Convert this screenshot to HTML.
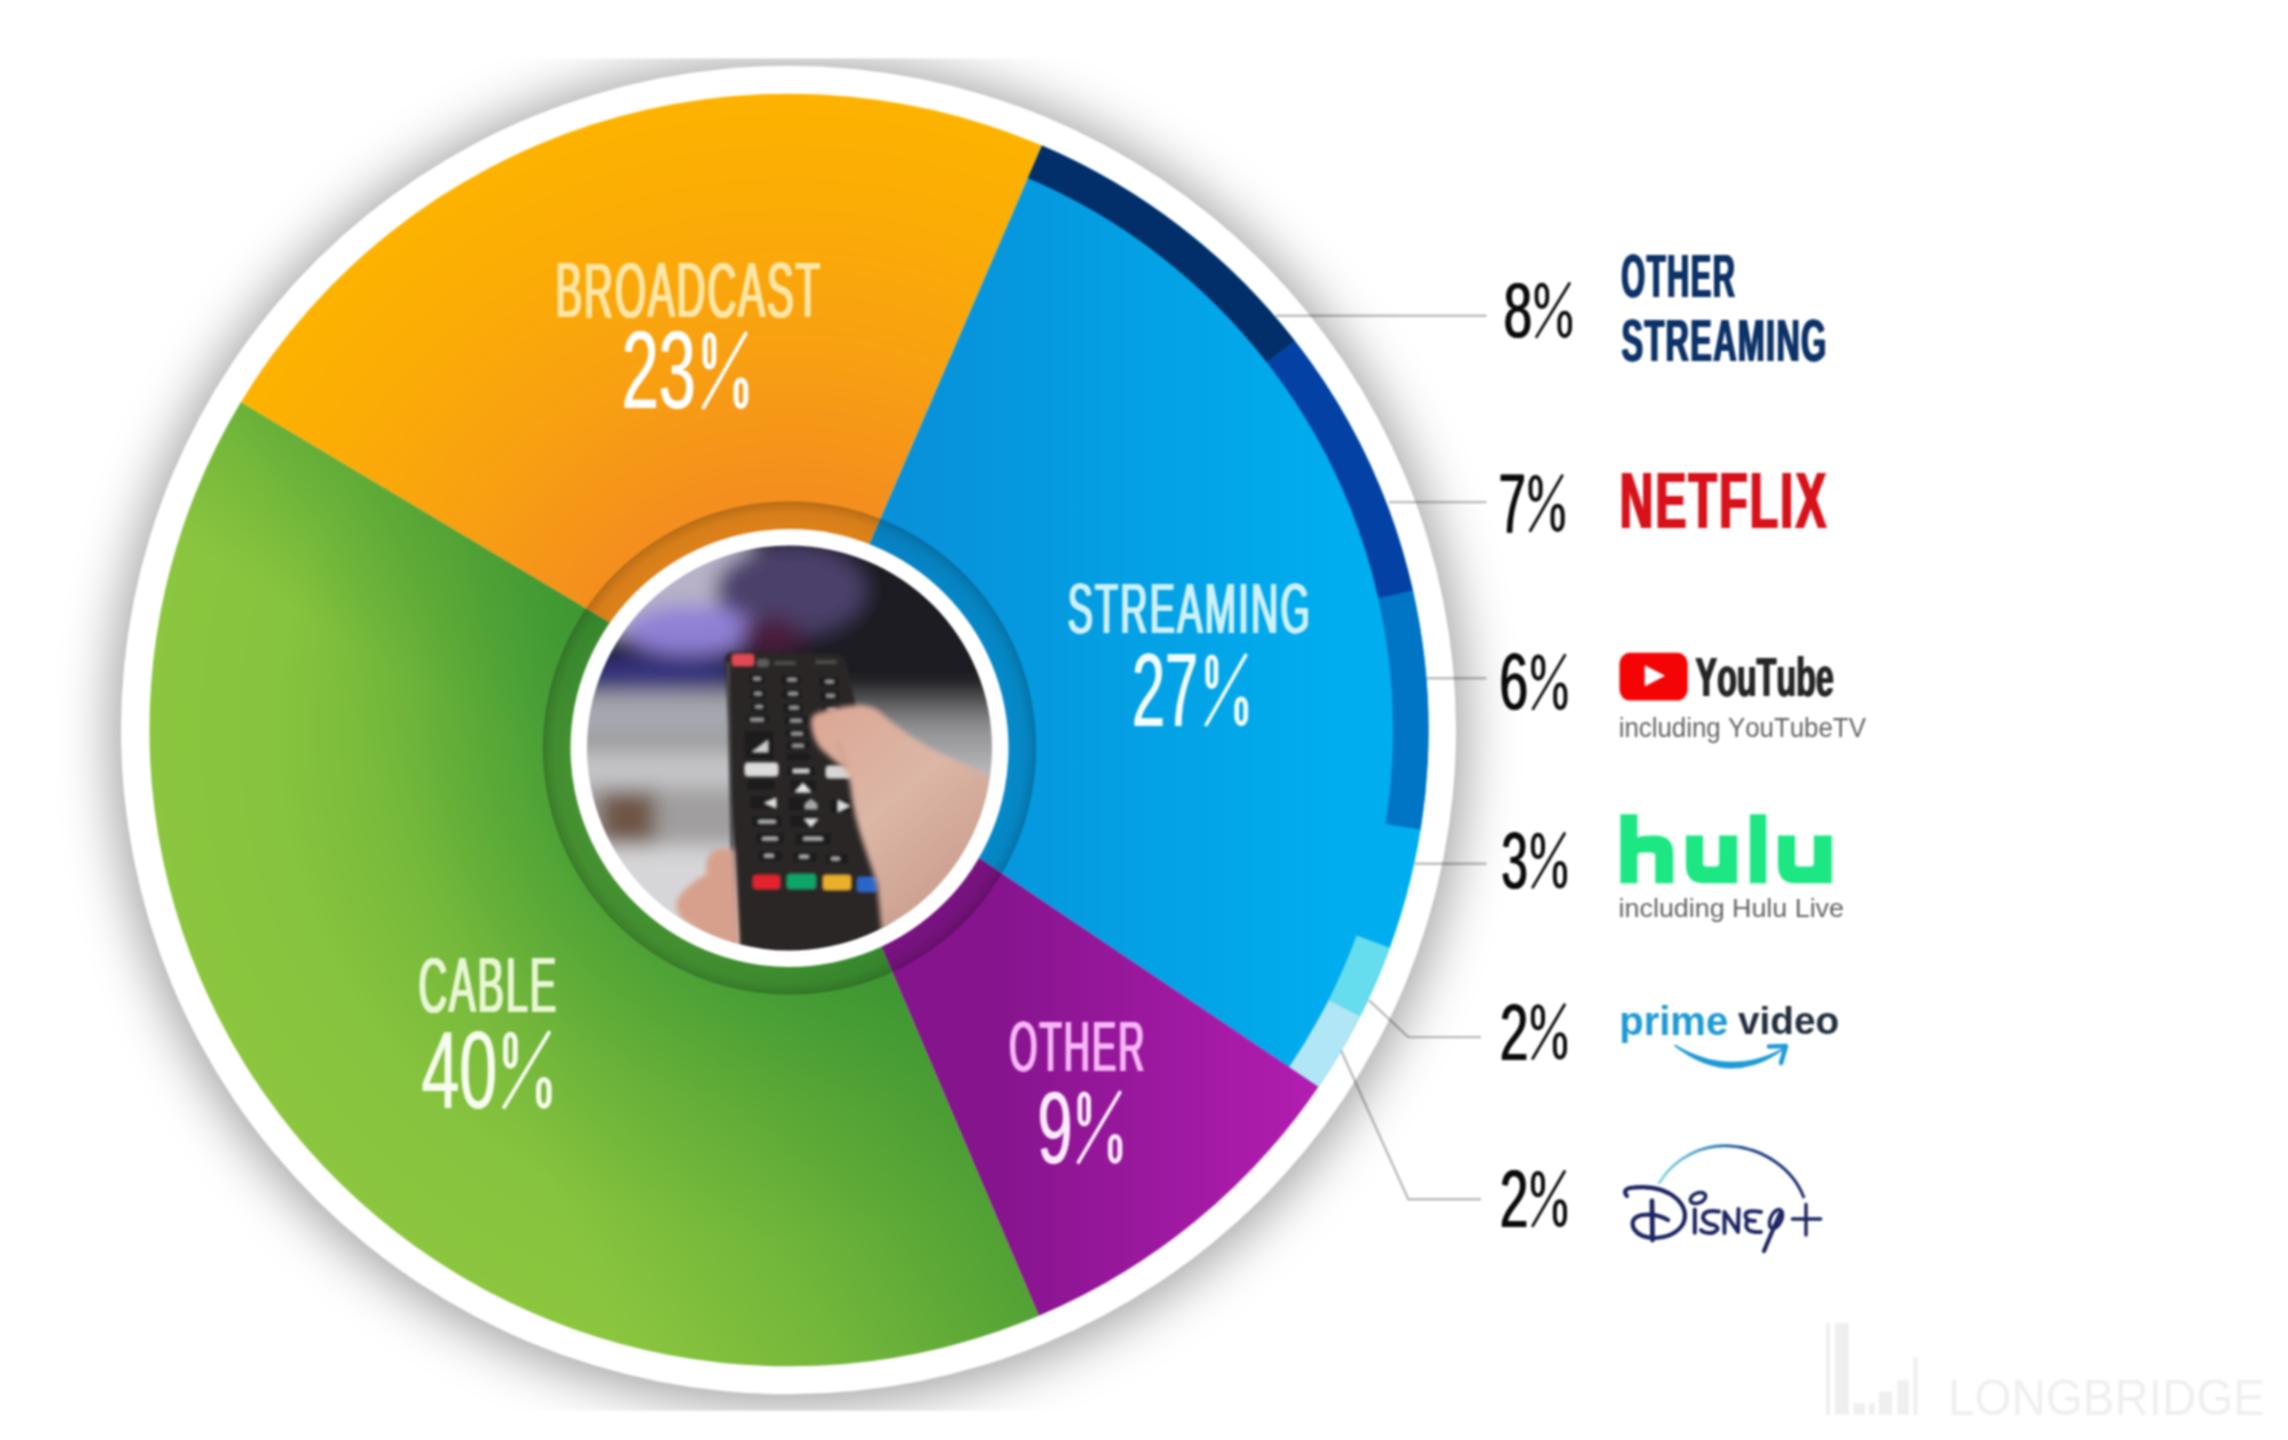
<!DOCTYPE html>
<html><head><meta charset="utf-8"><title>TV viewing share</title>
<style>
html,body{margin:0;padding:0;background:#fff;}
body{width:2288px;height:1440px;overflow:hidden;}
svg{display:block;}
#wrap{width:2288px;height:1440px;filter:blur(1px);}
text{font-family:"Liberation Sans",sans-serif;font-kerning:none;}
</style></head><body>
<div id="wrap">
<svg width="2288" height="1440" viewBox="0 0 2288 1440">
<defs>
<filter id="shblur" x="-20%" y="-20%" width="140%" height="140%"><feGaussianBlur stdDeviation="26"/></filter>
<clipPath id="shclip"><rect x="0" y="58.5" width="2288" height="1352.3"/></clipPath>
<radialGradient id="gB" gradientUnits="userSpaceOnUse" cx="0" cy="0" r="640">
 <stop offset="0.38" stop-color="#f48f1d"/><stop offset="0.6" stop-color="#f8a012"/><stop offset="0.8" stop-color="#fbab07"/><stop offset="1" stop-color="#fdb300"/></radialGradient>
<linearGradient id="gS" gradientUnits="userSpaceOnUse" x1="100" y1="0" x2="560" y2="0">
 <stop offset="0" stop-color="#0890d8"/><stop offset="1" stop-color="#00aeef"/></linearGradient>
<linearGradient id="gO" gradientUnits="userSpaceOnUse" x1="200" y1="0" x2="520" y2="0">
 <stop offset="0" stop-color="#85148d"/><stop offset="1" stop-color="#b11db0"/></linearGradient>
<radialGradient id="gC" gradientUnits="userSpaceOnUse" cx="0" cy="0" r="640">
 <stop offset="0.39" stop-color="#55a838"/><stop offset="0.6" stop-color="#74b83b"/><stop offset="0.8" stop-color="#86c33e"/><stop offset="1" stop-color="#8cc63f"/></radialGradient>
<linearGradient id="gC2" gradientUnits="userSpaceOnUse" x1="0" y1="0" x2="-368.4" y2="156.4">
 <stop offset="0" stop-color="#2c8a2f" stop-opacity="0.6"/><stop offset="0.5" stop-color="#2c8a2f" stop-opacity="0.25"/><stop offset="1" stop-color="#2c8a2f" stop-opacity="0"/></linearGradient>
<linearGradient id="gC3" gradientUnits="userSpaceOnUse" x1="0" y1="0" x2="-77" y2="129">
 <stop offset="0" stop-color="#2c8a2f" stop-opacity="0.32"/><stop offset="1" stop-color="#2c8a2f" stop-opacity="0"/></linearGradient>
<radialGradient id="gRing" gradientUnits="userSpaceOnUse" cx="0" cy="0" r="247">
 <stop offset="0.88" stop-color="#000" stop-opacity="0.09"/>
 <stop offset="0.95" stop-color="#000" stop-opacity="0.12"/>
 <stop offset="0.985" stop-color="#000" stop-opacity="0.2"/>
 <stop offset="0.996" stop-color="#000" stop-opacity="0.26"/>
 <stop offset="1" stop-color="#000" stop-opacity="0.05"/></radialGradient>
</defs>

<g clip-path="url(#shclip)"><ellipse cx="788.5" cy="733.0" rx="677.5" ry="674.1" fill="#000" fill-opacity="0.36" filter="url(#shblur)"/></g>
<ellipse cx="788.5" cy="730.0" rx="667.5" ry="664.2" fill="#fff"/>
<g transform="translate(789.0,730.0) scale(1,0.9950)">
<path d="M0,0 L-548.16,-329.37 A639.50,639.50 0 0 1 252.95,-587.35 Z" fill="url(#gB)"/>
<path d="M0,0 L252.95,-587.35 A639.50,639.50 0 0 1 529.54,358.53 Z" fill="url(#gS)"/>
<path d="M0,0 L529.54,358.53 A639.50,639.50 0 0 1 249.87,588.66 Z" fill="url(#gO)"/>
<path d="M0,0 L249.87,588.66 A639.50,639.50 0 0 1 -548.16,-329.37 Z" fill="url(#gC)"/>
<path d="M0,0 L249.87,588.66 A639.50,639.50 0 0 1 -548.16,-329.37 Z" fill="url(#gC2)"/>
<path d="M0,0 L249.87,588.66 A639.50,639.50 0 0 1 -548.16,-329.37 Z" fill="url(#gC3)"/>
<path d="M252.95,-587.35 A639.50,639.50 0 0 1 505.99,-391.07 L477.90,-369.36 A604.00,604.00 0 0 0 238.91,-554.74 Z" fill="#022f6a"/>
<path d="M505.99,-391.07 A639.50,639.50 0 0 1 623.98,-140.05 L589.34,-132.27 A604.00,604.00 0 0 0 477.90,-369.36 Z" fill="#0441a4"/>
<path d="M623.98,-140.05 A639.50,639.50 0 0 1 631.63,100.04 L596.56,94.49 A604.00,604.00 0 0 0 589.34,-132.27 Z" fill="#0074c5"/>
<path d="M600.93,218.72 A639.50,639.50 0 0 1 571.31,287.34 L539.60,271.39 A604.00,604.00 0 0 0 567.57,206.58 Z" fill="#66dcef"/>
<path d="M571.31,287.34 A639.50,639.50 0 0 1 529.54,358.53 L500.15,338.63 A604.00,604.00 0 0 0 539.60,271.39 Z" fill="#b0e6f5"/>
</g>
<g transform="translate(789.5,748.0)"><circle r="247.0" fill="url(#gRing)"/></g>
<circle cx="789.5" cy="748.0" r="219.0" fill="#fff"/>
<clipPath id="phclip"><circle cx="789.5" cy="748.0" r="202.5"/></clipPath>
<filter id="bgblur" x="-10%" y="-10%" width="120%" height="120%"><feGaussianBlur stdDeviation="10"/></filter>
<filter id="sblur" x="-10%" y="-10%" width="120%" height="120%"><feGaussianBlur stdDeviation="1.3"/></filter>
<filter id="hblur" x="-10%" y="-10%" width="120%" height="120%"><feGaussianBlur stdDeviation="2.5"/></filter>
<linearGradient id="skin" gradientUnits="userSpaceOnUse" x1="820" y1="720" x2="980" y2="900"><stop offset="0" stop-color="#dca896"/><stop offset="0.45" stop-color="#dcb6a6"/><stop offset="1" stop-color="#c89a8a"/></linearGradient>
<linearGradient id="bgR" gradientUnits="userSpaceOnUse" x1="0" y1="690" x2="0" y2="790"><stop offset="0" stop-color="#3a3a3c"/><stop offset="0.35" stop-color="#8e8e90"/><stop offset="1" stop-color="#c6c6c8"/></linearGradient>
<g clip-path="url(#phclip)">
<g filter="url(#bgblur)">
<rect x="560" y="520" width="460" height="460" fill="#c6c6c8"/>
<rect x="560" y="520" width="460" height="172" fill="#1f1a21"/>
<ellipse cx="665" cy="580" rx="105" ry="62" fill="#b7b2c8"/>
<ellipse cx="790" cy="590" rx="75" ry="45" fill="#4b3f6b"/>
<ellipse cx="690" cy="630" rx="65" ry="24" fill="#9080d6"/>
<ellipse cx="772" cy="636" rx="32" ry="18" fill="#4a1c3c"/>
<ellipse cx="650" cy="674" rx="90" ry="18" fill="#34317c"/>
<rect x="560" y="692" width="230" height="50" fill="#a6a6ae"/>
<rect x="800" y="690" width="220" height="110" fill="url(#bgR)"/>
<rect x="560" y="741" width="230" height="9" fill="#85857c"/>
<rect x="560" y="750" width="230" height="38" fill="#c4c4c8"/>
<rect x="560" y="788" width="230" height="58" fill="#a09e9e"/>
<rect x="600" y="790" width="55" height="55" fill="#6e5444"/>
<rect x="560" y="846" width="230" height="130" fill="#d6d6d8"/>
</g>
<g filter="url(#sblur)">
<path d="M725,660 Q725,652 735,652 L836,654 Q844,655 846,662 L858,716 L895,960 L740,960 Z" fill="#2a2828"/>
<path d="M728,662 L734,950" stroke="#4a4a4c" stroke-width="3" fill="none"/>
<rect x="732" y="654" width="22" height="12" rx="3" fill="#e04a55"/>
<rect x="757" y="659" width="12" height="8" rx="3" fill="#5c5c5c"/>
<rect x="774" y="661" width="22" height="4" rx="3" fill="#4c4c4c"/>
<rect x="815" y="660" width="22" height="4" rx="3" fill="#4c4c4c"/>
<rect x="749" y="674" width="16" height="10" rx="3" fill="#1a1a1a"/>
<rect x="781" y="675" width="20" height="10" rx="3" fill="#1a1a1a"/>
<rect x="819" y="677" width="20" height="10" rx="3" fill="#1a1a1a"/>
<rect x="750" y="689" width="16" height="10" rx="3" fill="#1a1a1a"/>
<rect x="782" y="689" width="20" height="10" rx="3" fill="#1a1a1a"/>
<rect x="820" y="691" width="20" height="10" rx="3" fill="#1a1a1a"/>
<rect x="751" y="702" width="16" height="10" rx="3" fill="#1a1a1a"/>
<rect x="783" y="703" width="20" height="10" rx="3" fill="#1a1a1a"/>
<rect x="821" y="705" width="20" height="10" rx="3" fill="#1a1a1a"/>
<rect x="746" y="715" width="24" height="8" rx="3" fill="#1a1a1a"/>
<rect x="784" y="716" width="24" height="9" rx="3" fill="#1a1a1a"/>
<rect x="785" y="729" width="24" height="8" rx="3" fill="#1a1a1a"/>
<rect x="786" y="741" width="24" height="9" rx="3" fill="#1a1a1a"/>
<rect x="786" y="753" width="24" height="8" rx="3" fill="#1a1a1a"/>
<rect x="753" y="677" width="8" height="3.5" rx="1.5" fill="#9a9a9a"/>
<rect x="787" y="678" width="10" height="3.5" rx="1.5" fill="#9a9a9a"/>
<rect x="825" y="680" width="9" height="3.5" rx="1.5" fill="#9a9a9a"/>
<rect x="754" y="692" width="8" height="3.5" rx="1.5" fill="#9a9a9a"/>
<rect x="788" y="692" width="10" height="3.5" rx="1.5" fill="#9a9a9a"/>
<rect x="826" y="694" width="9" height="3.5" rx="1.5" fill="#9a9a9a"/>
<rect x="755" y="705" width="8" height="3.5" rx="1.5" fill="#9a9a9a"/>
<rect x="789" y="706" width="10" height="3.5" rx="1.5" fill="#9a9a9a"/>
<rect x="827" y="708" width="9" height="3.5" rx="1.5" fill="#9a9a9a"/>
<rect x="750" y="718" width="14" height="3.5" rx="1.5" fill="#9a9a9a"/>
<rect x="790" y="719" width="12" height="3.5" rx="1.5" fill="#9a9a9a"/>
<rect x="791" y="732" width="12" height="3.5" rx="1.5" fill="#9a9a9a"/>
<rect x="792" y="744" width="12" height="3.5" rx="1.5" fill="#9a9a9a"/>
<rect x="745" y="763" width="33" height="13" rx="3" fill="#dcdcdc"/>
<rect x="787" y="766" width="28" height="10" rx="3" fill="#1a1a1a"/><rect x="793" y="769" width="16" height="4" fill="#cfcfcf"/>
<rect x="826" y="766" width="26" height="12" rx="3" fill="#d6d6d6"/>
<rect x="744" y="731" width="30" height="28" rx="3" fill="#1a1a1b"/>
<path d="M752,752 L768,740 L768,752 Z" fill="#cfcfcf"/>
<rect x="747" y="780" width="28" height="10" rx="3" fill="#1a1a1a"/>
<rect x="790" y="780" width="26" height="12" rx="3" fill="#1a1a1a"/>
<rect x="750" y="796" width="28" height="13" rx="3" fill="#1a1a1a"/>
<rect x="788" y="797" width="26" height="14" rx="3" fill="#1a1a1a"/>
<rect x="830" y="799" width="24" height="14" rx="3" fill="#1a1a1a"/>
<rect x="752" y="816" width="30" height="11" rx="3" fill="#1a1a1a"/>
<rect x="790" y="815" width="28" height="12" rx="3" fill="#1a1a1a"/>
<rect x="756" y="833" width="28" height="11" rx="3" fill="#1a1a1a"/>
<rect x="795" y="833" width="36" height="12" rx="3" fill="#1a1a1a"/>
<rect x="758" y="851" width="24" height="10" rx="3" fill="#1a1a1a"/>
<rect x="793" y="852" width="24" height="10" rx="3" fill="#1a1a1a"/>
<rect x="826" y="854" width="22" height="10" rx="3" fill="#1a1a1a"/>
<path d="M795,792 L803,783 L811,792 Z" fill="#e8e8e8"/>
<path d="M764,803 L776,798 L776,808 Z" fill="#e0e0e0"/>
<path d="M838,800 L850,806 L838,812 Z" fill="#e0e0e0"/>
<path d="M804,819 L818,819 L811,827 Z" fill="#e0e0e0"/>
<path d="M805,804 L811,799 L817,804 L817,809 L805,809 Z" fill="#a8a8a8"/>
<rect x="758" y="820" width="18" height="3.5" rx="1.5" fill="#b0b0b0"/>
<rect x="762" y="837" width="16" height="3.5" rx="1.5" fill="#b0b0b0"/>
<rect x="803" y="837" width="20" height="3.5" rx="1.5" fill="#b0b0b0"/>
<rect x="764" y="854" width="10" height="3.5" rx="1.5" fill="#b0b0b0"/>
<rect x="799" y="855" width="10" height="3.5" rx="1.5" fill="#b0b0b0"/>
<rect x="831" y="857" width="9" height="3.5" rx="1.5" fill="#b0b0b0"/>
<rect x="753" y="875" width="27" height="14" rx="3" fill="#e3232e"/>
<rect x="787" y="874" width="29" height="15" rx="3" fill="#0fa56a"/>
<rect x="823" y="875" width="28" height="15" rx="3" fill="#e8b02a"/>
<rect x="857" y="877" width="20" height="15" rx="3" fill="#2a66c8"/>
</g>
<g filter="url(#hblur)">
<path d="M811,724 Q810,714 820,712 Q840,706 858,705 Q872,705 880,712 Q900,730 930,748 Q960,762 990,776 L1000,980 L888,980 Q882,940 877,884 Q868,858 862,840 Q855,818 852,800 Q850,780 846,770 Q830,758 820,748 Q812,738 811,724 Z" fill="url(#skin)"/>
<path d="M848,770 Q842,755 838,742" stroke="#c0907e" stroke-width="3" fill="none" opacity="0.5"/>
<path d="M734,850 Q720,846 711,853 Q704,862 707,874 Q690,882 678,898 Q672,914 690,925 L740,962 Z" fill="#d7a08c"/>
</g>
</g>
<text x="554.42" y="317.23" font-size="78.39" font-weight="normal" textLength="266.49" lengthAdjust="spacingAndGlyphs" fill="#fde6a6" letter-spacing="3.919">BROADCAST</text><text x="555.09" y="317.23" font-size="78.39" font-weight="normal" textLength="266.49" lengthAdjust="spacingAndGlyphs" fill="#fde6a6" letter-spacing="3.919">BROADCAST</text><text x="555.76" y="317.23" font-size="78.39" font-weight="normal" textLength="266.49" lengthAdjust="spacingAndGlyphs" fill="#fde6a6" letter-spacing="3.919">BROADCAST</text><text x="556.42" y="317.23" font-size="78.39" font-weight="normal" textLength="266.49" lengthAdjust="spacingAndGlyphs" fill="#fde6a6" letter-spacing="3.919">BROADCAST</text>
<text x="621.25" y="407.94" font-size="108.76" font-weight="normal" textLength="74.08" lengthAdjust="spacingAndGlyphs" fill="#ffffff">23</text><text x="622.25" y="407.94" font-size="108.76" font-weight="normal" textLength="74.08" lengthAdjust="spacingAndGlyphs" fill="#ffffff">23</text><rect x="705.14" y="335.16" width="8.69" height="31.72" rx="4.34" ry="6.95" fill="none" stroke="#ffffff" stroke-width="5.08"/><rect x="736.12" y="379.97" width="9.61" height="26.49" rx="4.80" ry="7.68" fill="none" stroke="#ffffff" stroke-width="5.08"/><line x1="745.75" y1="333.54" x2="703.52" y2="407.46" stroke="#ffffff" stroke-width="3.85" stroke-linecap="round"/>
<text x="1066.69" y="632.91" font-size="70.76" font-weight="normal" textLength="244.39" lengthAdjust="spacingAndGlyphs" fill="#cdf1fc" letter-spacing="4.246">STREAMING</text><text x="1067.36" y="632.91" font-size="70.76" font-weight="normal" textLength="244.39" lengthAdjust="spacingAndGlyphs" fill="#cdf1fc" letter-spacing="4.246">STREAMING</text><text x="1068.02" y="632.91" font-size="70.76" font-weight="normal" textLength="244.39" lengthAdjust="spacingAndGlyphs" fill="#cdf1fc" letter-spacing="4.246">STREAMING</text><text x="1068.69" y="632.91" font-size="70.76" font-weight="normal" textLength="244.39" lengthAdjust="spacingAndGlyphs" fill="#cdf1fc" letter-spacing="4.246">STREAMING</text>
<text x="1131.41" y="726.00" font-size="103.40" font-weight="normal" textLength="66.19" lengthAdjust="spacingAndGlyphs" fill="#f2fcff">27</text><text x="1132.41" y="726.00" font-size="103.40" font-weight="normal" textLength="66.19" lengthAdjust="spacingAndGlyphs" fill="#f2fcff">27</text><rect x="1207.78" y="656.76" width="8.10" height="29.75" rx="4.05" ry="6.48" fill="none" stroke="#f2fcff" stroke-width="4.77"/><rect x="1236.74" y="698.78" width="8.96" height="24.84" rx="4.48" ry="7.17" fill="none" stroke="#f2fcff" stroke-width="4.77"/><line x1="1245.73" y1="655.24" x2="1206.26" y2="724.56" stroke="#f2fcff" stroke-width="3.61" stroke-linecap="round"/>
<text x="417.39" y="1011.74" font-size="77.68" font-weight="normal" textLength="139.90" lengthAdjust="spacingAndGlyphs" fill="#e8f6d4" letter-spacing="3.884">CABLE</text><text x="418.05" y="1011.74" font-size="77.68" font-weight="normal" textLength="139.90" lengthAdjust="spacingAndGlyphs" fill="#e8f6d4" letter-spacing="3.884">CABLE</text><text x="418.72" y="1011.74" font-size="77.68" font-weight="normal" textLength="139.90" lengthAdjust="spacingAndGlyphs" fill="#e8f6d4" letter-spacing="3.884">CABLE</text><text x="419.39" y="1011.74" font-size="77.68" font-weight="normal" textLength="139.90" lengthAdjust="spacingAndGlyphs" fill="#e8f6d4" letter-spacing="3.884">CABLE</text>
<text x="420.94" y="1107.68" font-size="109.82" font-weight="normal" textLength="75.72" lengthAdjust="spacingAndGlyphs" fill="#f6fcee">40</text><text x="421.94" y="1107.68" font-size="109.82" font-weight="normal" textLength="75.72" lengthAdjust="spacingAndGlyphs" fill="#f6fcee">40</text><rect x="505.67" y="1034.19" width="9.51" height="32.03" rx="4.75" ry="7.61" fill="none" stroke="#f6fcee" stroke-width="5.13"/><rect x="538.61" y="1079.44" width="10.48" height="26.75" rx="5.24" ry="8.39" fill="none" stroke="#f6fcee" stroke-width="5.13"/><line x1="548.97" y1="1032.56" x2="504.08" y2="1107.19" stroke="#f6fcee" stroke-width="3.89" stroke-linecap="round"/>
<text x="1008.29" y="1071.21" font-size="70.62" font-weight="normal" textLength="137.31" lengthAdjust="spacingAndGlyphs" fill="#f7b5f7" letter-spacing="4.237">OTHER</text><text x="1008.96" y="1071.21" font-size="70.62" font-weight="normal" textLength="137.31" lengthAdjust="spacingAndGlyphs" fill="#f7b5f7" letter-spacing="4.237">OTHER</text><text x="1009.62" y="1071.21" font-size="70.62" font-weight="normal" textLength="137.31" lengthAdjust="spacingAndGlyphs" fill="#f7b5f7" letter-spacing="4.237">OTHER</text><text x="1010.29" y="1071.21" font-size="70.62" font-weight="normal" textLength="137.31" lengthAdjust="spacingAndGlyphs" fill="#f7b5f7" letter-spacing="4.237">OTHER</text>
<text x="1037.06" y="1162.75" font-size="102.75" font-weight="normal" textLength="34.92" lengthAdjust="spacingAndGlyphs" fill="#fdeafc">9</text><text x="1038.06" y="1162.75" font-size="102.75" font-weight="normal" textLength="34.92" lengthAdjust="spacingAndGlyphs" fill="#fdeafc">9</text><rect x="1079.90" y="1093.98" width="8.70" height="29.97" rx="4.35" ry="6.96" fill="none" stroke="#fdeafc" stroke-width="4.80"/><rect x="1110.28" y="1136.32" width="9.60" height="25.03" rx="4.80" ry="7.68" fill="none" stroke="#fdeafc" stroke-width="4.80"/><line x1="1119.80" y1="1092.45" x2="1078.40" y2="1162.30" stroke="#fdeafc" stroke-width="3.64" stroke-linecap="round"/>
<g fill="none" stroke="#b9bbbf" stroke-width="2.4" style="mix-blend-mode:multiply">
<line x1="1276.0" y1="315.7" x2="1486.5" y2="315.7"/>
<line x1="1389.0" y1="502.1" x2="1486.5" y2="502.1"/>
<line x1="1427.0" y1="678.3" x2="1486.5" y2="678.3"/>
<line x1="1415.0" y1="863.7" x2="1486.5" y2="863.7"/>
<polyline points="1369.1,1000.4 1408.3,1037.1 1481,1037.1"/>
<polyline points="1341.2,1050.7 1408.3,1199.3 1481,1199.3"/>
</g>
<text x="1502.97" y="337.23" font-size="78.67" font-weight="normal" textLength="28.56" lengthAdjust="spacingAndGlyphs" fill="#0a0a0a">8</text><text x="1503.57" y="337.23" font-size="78.67" font-weight="normal" textLength="28.56" lengthAdjust="spacingAndGlyphs" fill="#0a0a0a">8</text><text x="1504.17" y="337.23" font-size="78.67" font-weight="normal" textLength="28.56" lengthAdjust="spacingAndGlyphs" fill="#0a0a0a">8</text><rect x="1536.55" y="284.81" width="10.69" height="22.06" rx="5.34" ry="8.55" fill="none" stroke="#0a0a0a" stroke-width="3.90"/><rect x="1559.29" y="312.66" width="10.76" height="23.39" rx="5.38" ry="8.61" fill="none" stroke="#0a0a0a" stroke-width="3.90"/><line x1="1569.38" y1="283.41" x2="1536.47" y2="336.89" stroke="#0a0a0a" stroke-width="2.78" stroke-linecap="round"/>
<text x="1498.10" y="531.90" font-size="83.43" font-weight="normal" textLength="27.16" lengthAdjust="spacingAndGlyphs" fill="#0a0a0a">7</text><text x="1498.70" y="531.90" font-size="83.43" font-weight="normal" textLength="27.16" lengthAdjust="spacingAndGlyphs" fill="#0a0a0a">7</text><text x="1499.30" y="531.90" font-size="83.43" font-weight="normal" textLength="27.16" lengthAdjust="spacingAndGlyphs" fill="#0a0a0a">7</text><rect x="1530.51" y="477.08" width="10.10" height="22.73" rx="5.05" ry="8.08" fill="none" stroke="#0a0a0a" stroke-width="4.02"/><rect x="1552.52" y="505.78" width="10.17" height="24.11" rx="5.09" ry="8.14" fill="none" stroke="#0a0a0a" stroke-width="4.02"/><line x1="1562.17" y1="475.65" x2="1530.31" y2="530.75" stroke="#0a0a0a" stroke-width="2.87" stroke-linecap="round"/>
<text x="1498.68" y="709.23" font-size="79.10" font-weight="normal" textLength="28.69" lengthAdjust="spacingAndGlyphs" fill="#0a0a0a">6</text><text x="1499.28" y="709.23" font-size="79.10" font-weight="normal" textLength="28.69" lengthAdjust="spacingAndGlyphs" fill="#0a0a0a">6</text><text x="1499.88" y="709.23" font-size="79.10" font-weight="normal" textLength="28.69" lengthAdjust="spacingAndGlyphs" fill="#0a0a0a">6</text><rect x="1533.16" y="656.52" width="10.20" height="22.18" rx="5.10" ry="8.16" fill="none" stroke="#0a0a0a" stroke-width="3.92"/><rect x="1555.17" y="684.52" width="10.27" height="23.52" rx="5.14" ry="8.22" fill="none" stroke="#0a0a0a" stroke-width="3.92"/><line x1="1564.87" y1="655.12" x2="1533.01" y2="708.88" stroke="#0a0a0a" stroke-width="2.80" stroke-linecap="round"/>
<text x="1500.79" y="887.72" font-size="79.38" font-weight="normal" textLength="26.39" lengthAdjust="spacingAndGlyphs" fill="#0a0a0a">3</text><text x="1501.39" y="887.72" font-size="79.38" font-weight="normal" textLength="26.39" lengthAdjust="spacingAndGlyphs" fill="#0a0a0a">3</text><text x="1501.99" y="887.72" font-size="79.38" font-weight="normal" textLength="26.39" lengthAdjust="spacingAndGlyphs" fill="#0a0a0a">3</text><rect x="1532.87" y="834.83" width="10.14" height="22.26" rx="5.07" ry="8.12" fill="none" stroke="#0a0a0a" stroke-width="3.93"/><rect x="1554.82" y="862.93" width="10.22" height="23.60" rx="5.11" ry="8.17" fill="none" stroke="#0a0a0a" stroke-width="3.93"/><line x1="1564.47" y1="833.42" x2="1532.71" y2="887.38" stroke="#0a0a0a" stroke-width="2.81" stroke-linecap="round"/>
<text x="1499.23" y="1059.60" font-size="80.20" font-weight="normal" textLength="28.44" lengthAdjust="spacingAndGlyphs" fill="#0a0a0a">2</text><text x="1499.83" y="1059.60" font-size="80.20" font-weight="normal" textLength="28.44" lengthAdjust="spacingAndGlyphs" fill="#0a0a0a">2</text><text x="1500.43" y="1059.60" font-size="80.20" font-weight="normal" textLength="28.44" lengthAdjust="spacingAndGlyphs" fill="#0a0a0a">2</text><rect x="1532.86" y="1006.12" width="10.16" height="22.18" rx="5.08" ry="8.13" fill="none" stroke="#0a0a0a" stroke-width="3.92"/><rect x="1554.81" y="1034.12" width="10.23" height="23.52" rx="5.12" ry="8.18" fill="none" stroke="#0a0a0a" stroke-width="3.92"/><line x1="1564.47" y1="1004.72" x2="1532.71" y2="1058.48" stroke="#0a0a0a" stroke-width="2.80" stroke-linecap="round"/>
<text x="1499.23" y="1227.00" font-size="81.06" font-weight="normal" textLength="28.44" lengthAdjust="spacingAndGlyphs" fill="#0a0a0a">2</text><text x="1499.83" y="1227.00" font-size="81.06" font-weight="normal" textLength="28.44" lengthAdjust="spacingAndGlyphs" fill="#0a0a0a">2</text><text x="1500.43" y="1227.00" font-size="81.06" font-weight="normal" textLength="28.44" lengthAdjust="spacingAndGlyphs" fill="#0a0a0a">2</text><rect x="1532.88" y="1172.95" width="10.12" height="22.41" rx="5.06" ry="8.09" fill="none" stroke="#0a0a0a" stroke-width="3.96"/><rect x="1554.83" y="1201.25" width="10.19" height="23.77" rx="5.09" ry="8.15" fill="none" stroke="#0a0a0a" stroke-width="3.96"/><line x1="1564.47" y1="1171.53" x2="1532.71" y2="1225.87" stroke="#0a0a0a" stroke-width="2.83" stroke-linecap="round"/>
<text x="1620.54" y="297.41" font-size="60.17" font-weight="bold" textLength="115.12" lengthAdjust="spacingAndGlyphs" fill="#0c3268" letter-spacing="3.008">OTHER</text><text x="1621.29" y="297.41" font-size="60.17" font-weight="bold" textLength="115.12" lengthAdjust="spacingAndGlyphs" fill="#0c3268" letter-spacing="3.008">OTHER</text><text x="1622.04" y="297.41" font-size="60.17" font-weight="bold" textLength="115.12" lengthAdjust="spacingAndGlyphs" fill="#0c3268" letter-spacing="3.008">OTHER</text>
<text x="1620.87" y="361.13" font-size="58.33" font-weight="bold" textLength="205.94" lengthAdjust="spacingAndGlyphs" fill="#0c3268" letter-spacing="2.333">STREAMING</text><text x="1621.62" y="361.13" font-size="58.33" font-weight="bold" textLength="205.94" lengthAdjust="spacingAndGlyphs" fill="#0c3268" letter-spacing="2.333">STREAMING</text><text x="1622.37" y="361.13" font-size="58.33" font-weight="bold" textLength="205.94" lengthAdjust="spacingAndGlyphs" fill="#0c3268" letter-spacing="2.333">STREAMING</text>
<text x="1618.70" y="528.00" font-size="78.78" font-weight="bold" textLength="209.02" lengthAdjust="spacingAndGlyphs" fill="#d8121b" letter-spacing="3.939">NETFLIX</text><text x="1619.37" y="528.00" font-size="78.78" font-weight="bold" textLength="209.02" lengthAdjust="spacingAndGlyphs" fill="#d8121b" letter-spacing="3.939">NETFLIX</text><text x="1620.04" y="528.00" font-size="78.78" font-weight="bold" textLength="209.02" lengthAdjust="spacingAndGlyphs" fill="#d8121b" letter-spacing="3.939">NETFLIX</text><text x="1620.70" y="528.00" font-size="78.78" font-weight="bold" textLength="209.02" lengthAdjust="spacingAndGlyphs" fill="#d8121b" letter-spacing="3.939">NETFLIX</text>
<rect x="1619.5" y="652.8" width="68.2" height="47.7" rx="10.5" ry="11.5" fill="#f40404"/>
<path d="M1645.2,666 L1664.2,675.8 L1645.2,685.7 Z" fill="#fff" stroke="#fff" stroke-width="1" stroke-linejoin="round"/>
<text x="1694.85" y="695.66" font-size="55.69" font-weight="bold" textLength="138.26" lengthAdjust="spacingAndGlyphs" fill="#262626">YouTube</text><text x="1695.55" y="695.66" font-size="55.69" font-weight="bold" textLength="138.26" lengthAdjust="spacingAndGlyphs" fill="#262626">YouTube</text><text x="1696.25" y="695.66" font-size="55.69" font-weight="bold" textLength="138.26" lengthAdjust="spacingAndGlyphs" fill="#262626">YouTube</text>
<text x="1618.67" y="737.35" font-size="27.25" font-weight="normal" textLength="247.24" lengthAdjust="spacingAndGlyphs" fill="#646464">including YouTubeTV</text>
<g fill="#1ce783">
<path d="M1620.4,814.3 H1637.4 V837.5 Q1643,835.6 1652,835.6 H1655 Q1673.2,835.6 1673.2,853.8 V883.3 H1655.3 V856 Q1655.3,852.5 1651.8,852.5 H1641 Q1637.4,852.5 1637.4,856 V883.3 H1620.4 Z"/>
<path d="M1686.0,835.6 H1703.0 V863 Q1703.0,866.5 1706.5,866.5 H1715.7 Q1719.2,866.5 1719.2,863 V835.6 H1737.1 V883.3 H1704.0 Q1686.0,883.3 1686.0,865 Z"/>
<rect x="1750" y="814.3" width="16.1" height="69"/>
<path d="M1778.0,835.6 H1795.0 V863 Q1795.0,866.5 1798.5,866.5 H1810.4 Q1813.9,866.5 1813.9,863 V835.6 H1831.7 V883.3 H1796.0 Q1778.0,883.3 1778.0,865 Z"/>
</g>
<text x="1618.60" y="917.18" font-size="25.64" font-weight="normal" textLength="225.39" lengthAdjust="spacingAndGlyphs" fill="#646464">including Hulu Live</text>
<text x="1619.16" y="1034.94" font-size="40.77" font-weight="bold" textLength="109.11" lengthAdjust="spacingAndGlyphs" fill="#1d9ad6">prime</text>
<text x="1738.05" y="1034.11" font-size="39.63" font-weight="bold" textLength="101.16" lengthAdjust="spacingAndGlyphs" fill="#232f3e">video</text>
<path d="M1675,1045.5 Q1730,1078 1783,1049 Q1730,1088 1675,1045.5 Z" fill="#1d9ad6" stroke="#1d9ad6" stroke-width="1.6" stroke-linejoin="round"/>
<path d="M1769,1046.5 L1786,1046 L1781,1063" fill="none" stroke="#1d9ad6" stroke-width="4.5" stroke-linecap="round" stroke-linejoin="round"/>
<linearGradient id="dArc" gradientUnits="userSpaceOnUse" x1="1658" y1="0" x2="1804" y2="0"><stop offset="0" stop-color="#8fdde2"/><stop offset="0.35" stop-color="#3f8fc4"/><stop offset="0.6" stop-color="#1d4a8e"/><stop offset="1" stop-color="#1a2a6c"/></linearGradient>
<path d="M1658.5,1184 C1675,1156 1705,1144 1730,1146 C1762,1148 1793,1168 1804,1198" fill="none" stroke="url(#dArc)" stroke-width="3"/>
<g fill="none" stroke="#1c2461" stroke-linecap="round" stroke-linejoin="round">
<path d="M1627,1196 Q1622,1190 1630,1188 Q1660,1184 1677,1199 Q1689,1211 1683,1224 Q1675,1237 1655,1238 Q1640,1238 1634,1229 Q1629,1218 1642,1215 Q1657,1213 1668,1220" stroke-width="4.2"/>
<path d="M1652,1201 L1652.5,1240" stroke-width="4.8"/>
<path d="M1694.8,1209.6 L1694.8,1232.7" stroke-width="4"/>
<ellipse cx="1698" cy="1198" rx="8" ry="5" stroke-width="3.6" transform="rotate(-22 1698 1198)"/>
<path d="M1719,1211.5 Q1703,1209 1703,1218 Q1705,1224 1714,1225 Q1722,1229 1712,1233 Q1704,1233.5 1701,1230" stroke-width="4"/>
<path d="M1724.5,1233 L1724.5,1212 L1738,1232 L1738.5,1209" stroke-width="3.9"/>
<path d="M1761,1212 Q1745,1209 1745.5,1216 Q1746,1221 1755,1221 M1747,1221.5 Q1743,1233 1761,1232" stroke-width="3.9"/>
<ellipse cx="1776" cy="1219" rx="5.5" ry="10" stroke-width="3.6" transform="rotate(25 1776 1219)"/>
<path d="M1780,1214 Q1771,1234 1764,1251" stroke-width="4.2"/>
<path d="M1806,1204.4 L1806,1235 M1792.4,1219 L1820.7,1219" stroke-width="3.4"/>
</g>
<rect x="1826.0" y="1322.9" width="4.0" height="91.9" fill="#efefef"/>
<rect x="1835.0" y="1322.9" width="13.8" height="91.9" fill="#efefef"/>
<rect x="1853.7" y="1403.2" width="11.1" height="11.6" fill="#efefef"/>
<rect x="1869.5" y="1403.2" width="4.9" height="11.6" fill="#efefef"/>
<rect x="1879.0" y="1391.7" width="13.1" height="23.1" fill="#efefef"/>
<rect x="1897.2" y="1380.4" width="11.6" height="34.4" fill="#efefef"/>
<rect x="1913.2" y="1357.3" width="4.5" height="57.5" fill="#efefef"/>
<text x="1948.10" y="1414.52" font-size="49.43" font-weight="normal" textLength="316.84" lengthAdjust="spacingAndGlyphs" fill="#efefef" letter-spacing="0">LONGBRIDGE</text>
</svg>
</div>
</body></html>
